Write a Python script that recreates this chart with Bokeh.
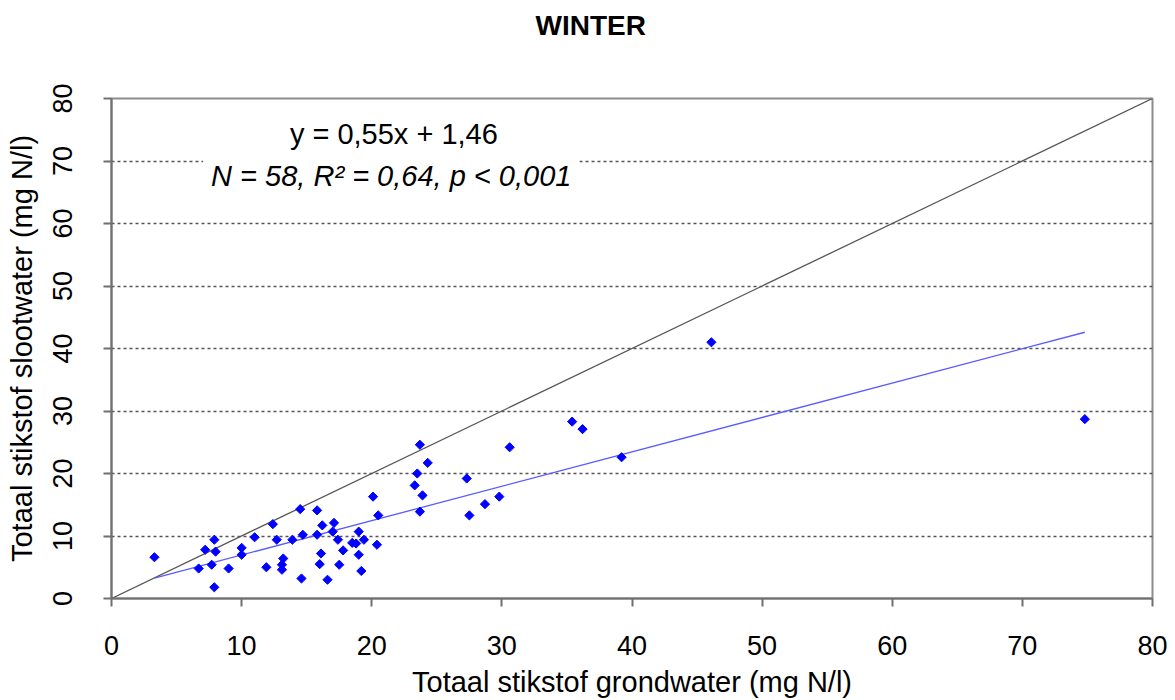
import numpy as np
from bokeh.plotting import figure
from bokeh.models import Range1d, FixedTicker, Label, Title
from bokeh.embed import file_html
from bokeh.resources import INLINE

# Data: total nitrogen groundwater (x) vs ditch water (y), winter
x_gw = [3.3, 7.9, 7.2, 8.0, 6.7, 7.7, 7.9, 9.0, 10.0, 10.0, 11.0, 12.4, 11.9, 12.7,
        13.2, 13.1, 13.1, 13.9, 14.5, 14.7, 14.6, 15.8, 15.8, 16.2, 16.1, 16.0, 16.6,
        17.1, 17.0, 17.4, 17.8, 17.5, 18.5, 18.8, 19.0, 19.4, 19.0, 19.2, 20.1, 20.5,
        20.4, 23.7, 24.3, 23.5, 23.3, 23.9, 23.7, 27.3, 27.5, 28.7, 29.8, 30.6, 35.4,
        36.2, 39.2, 46.1, 74.8]
y_sw = [6.6, 9.4, 7.8, 7.5, 4.8, 5.4, 1.8, 4.8, 8.1, 7.0, 9.8, 11.9, 5.0, 9.4,
        6.4, 5.4, 4.6, 9.4, 14.3, 10.2, 3.2, 14.1, 10.2, 11.7, 7.2, 5.5, 3.0,
        12.1, 10.7, 9.4, 7.7, 5.4, 8.9, 8.8, 10.7, 9.4, 7.0, 4.4, 16.3, 13.3,
        8.6, 24.6, 21.7, 20.0, 18.1, 16.5, 13.9, 19.2, 13.3, 15.1, 16.3, 24.2, 28.3,
        27.1, 22.6, 41.0, 28.7]

slope = 0.55
intercept = 1.46
ticks = [0, 10, 20, 30, 40, 50, 60, 70, 80]
title_text = "WINTER"
eq_text = "y = 0,55x + 1,46"
stats_text = "N = 58, R² = 0,64, p < 0,001"
x_label = "Totaal stikstof grondwater (mg N/l)"
y_label = "Totaal stikstof slootwater (mg N/l)"

FONT = "Liberation Sans"

p = figure(width=1170, height=700, output_backend="svg", toolbar_location=None,
           x_range=Range1d(0, 80), y_range=Range1d(0, 80),
           min_border_left=111, min_border_right=18, min_border_top=98,
           min_border_bottom=102, title=None)

# spacer panel between frame and title (pushes the title upward)
p.add_layout(Title(text=" ", standoff=40, text_font_size="10px"), "above")
p.add_layout(Title(text=title_text, align="left", offset=424, standoff=10,
                   vertical_align="bottom",
                   text_font=FONT, text_font_style="bold", text_font_size="28px",
                   text_color="#000000"), "above")

p.outline_line_color = "#8c8c8c"
p.outline_line_width = 2

# grids
p.xgrid.grid_line_color = None
p.ygrid.grid_line_color = "#555555"
p.ygrid.grid_line_dash = "3 3"
p.ygrid.grid_line_width = 1.5

for ax in (p.xaxis[0], p.yaxis[0]):
    ax.ticker = FixedTicker(ticks=ticks)
    ax.axis_line_color = "#707070"
    ax.axis_line_width = 2
    ax.major_tick_line_color = "#707070"
    ax.major_tick_line_width = 2
    ax.major_tick_out = 8
    ax.major_tick_in = 0
    ax.minor_tick_line_color = None
    ax.major_label_text_font = FONT
    ax.major_label_text_font_size = "27px"
    ax.major_label_text_color = "#000000"
    ax.axis_label_text_font = FONT
    ax.axis_label_text_font_size = "29px"
    ax.axis_label_text_font_style = "normal"
    ax.axis_label_text_color = "#000000"

p.xaxis.axis_label = x_label
p.yaxis.axis_label = y_label
p.xaxis.major_label_standoff = 29
p.xaxis.axis_label_standoff = 8
p.yaxis.major_label_orientation = "vertical"
p.yaxis.major_label_standoff = 32
p.yaxis.axis_label_standoff = 12

# 1:1 line
p.line([0, 80], [0, 80], line_color="#555555", line_width=1.3)

# regression line over data range
xr = np.array([min(x_gw), max(x_gw)])
p.line(xr, slope * xr + intercept, line_color="#5a5aff", line_width=1.3)

# points
p.scatter(x_gw, y_sw, marker="square", angle=np.pi / 4, size=6.5,
          fill_color="#0000ff", line_color="#0000ff")

# equation + stats
p.add_layout(Label(x=21.7, y=74.4, text=eq_text, text_align="center",
                   text_baseline="middle", text_font=FONT, text_font_size="29px",
                   text_color="#000000"))
p.add_layout(Label(x=21.5, y=67.6, text=stats_text, text_align="center",
                   text_baseline="middle", text_font=FONT, text_font_style="italic",
                   text_font_size="29px", text_color="#000000",
                   background_fill_color="white", padding=8))

open("out.html", "w").write(file_html(p, INLINE))
